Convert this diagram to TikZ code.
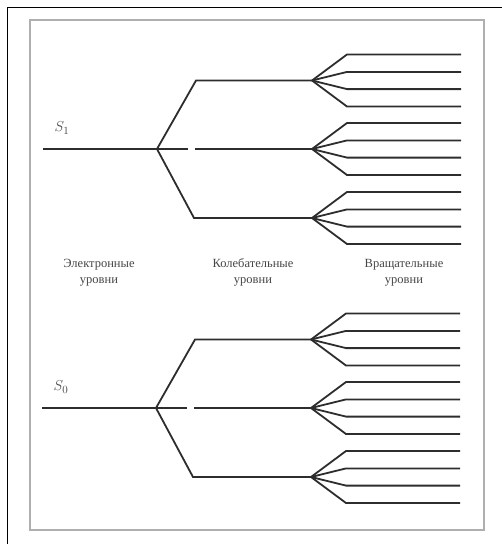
\documentclass[tikz,border=0pt]{standalone}
\usepackage{fontspec}
\setmainfont{Liberation Serif}
\usetikzlibrary{positioning}
\definecolor{LineGray}{RGB}{45,45,45}
\definecolor{FrameGray}{RGB}{175,175,175}
\definecolor{TextGray}{RGB}{70,70,70}
\tikzset{
  lvlline/.style={draw=LineGray, line width=1.8pt},
  caption/.style={font=\fontsize{12.5}{15.5}\selectfont, text=TextGray, align=center, inner sep=0pt},
  statelbl/.style={font=\fontsize{15}{15}\selectfont, text=TextGray, inner sep=0pt}
}
\begin{document}
\begin{tikzpicture}[x=1pt, y=-1pt]
\useasboundingbox (0,0) rectangle (502,544);
\draw[black, line width=0.8pt] (7,7) rectangle (512,554);
\draw[FrameGray, line width=1.6pt] (30,20) rectangle (484,530);

\foreach \nm/\dx/\dy/\sub in {one/0/0/1, zero/-1/259/0} {
  \begin{scope}[shift={(\dx,\dy)}]
    \coordinate (\nm-start) at (43,149);
    \coordinate (\nm-fork) at (157,149);
    \coordinate (\nm-gapA) at (188,149);
    \coordinate (\nm-gapB) at (195,149);
    \coordinate (\nm-up) at (196,80.5);
    \coordinate (\nm-dn) at (194,218);
    \coordinate (\nm-v1) at (312,80.5);
    \coordinate (\nm-v2) at (312,149);
    \coordinate (\nm-v3) at (312,218);
    \node[statelbl] (\nm-lbl) at (62,128) {$S_\sub$};
    \draw[lvlline] (\nm-start) -- (\nm-fork) -- (\nm-gapA);
    \draw[lvlline] (\nm-gapB) -- (\nm-v2);
    \draw[lvlline] (\nm-fork) -- (\nm-up) -- (\nm-v1);
    \draw[lvlline] (\nm-fork) -- (\nm-dn) -- (\nm-v3);
    \foreach \v in {1,2,3}
      \foreach \r/\off in {1/-26,2/-8.6,3/8.6,4/26}
        \draw[lvlline] (\nm-v\v) -- ++(35,\off) coordinate (\nm-v\v-b\r)
          -- ++(114,0) coordinate (\nm-v\v-e\r);
  \end{scope}
}

\node[caption] (elec) at (99,272.5) {Электронные\\уровни};
\node[caption] (vib) at (253,272.5) {Колебательные\\уровни};
\node[caption] (rot) at (404,273) {Вращательные\\уровни};
\end{tikzpicture}
\end{document}
